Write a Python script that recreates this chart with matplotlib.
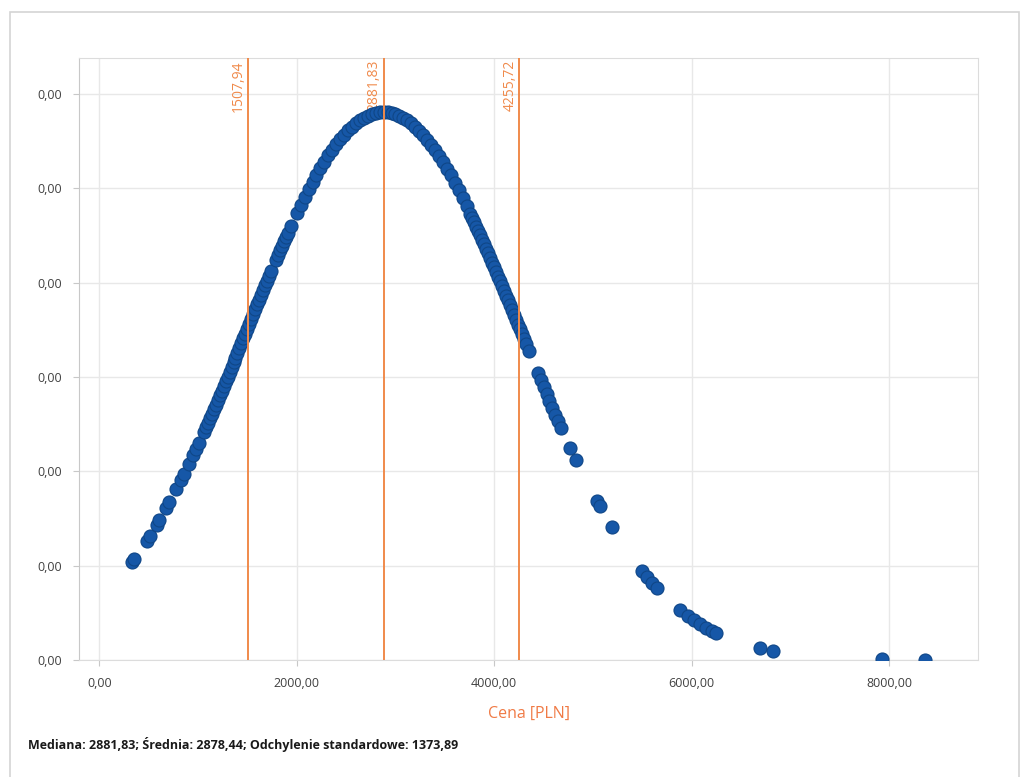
import matplotlib
matplotlib.use("Agg")
import matplotlib.pyplot as plt
from matplotlib.ticker import FuncFormatter, FixedLocator
from matplotlib.patches import Rectangle
import matplotlib.transforms as mtransforms

plt.rcParams['font.family'] = ['Open Sans', 'DejaVu Sans']

# Prices [PLN]
price = [330, 350, 480, 510, 580, 610, 680, 710, 780, 830, 860, 910, 950, 980, 1010,
         1060, 1080, 1100, 1120, 1140, 1160, 1180, 1200, 1220, 1240, 1260, 1280, 1300,
         1320, 1340, 1360, 1380, 1400, 1420, 1440, 1460, 1480, 1500, 1520, 1540, 1560,
         1580, 1600, 1620, 1640, 1660, 1680, 1700, 1720, 1740,
         1790, 1810, 1830, 1850, 1870, 1890, 1910, 1940,
         2000, 2040, 2080, 2120, 2160, 2200, 2240, 2280, 2320, 2360, 2400, 2440, 2480,
         2520, 2560, 2600, 2640, 2680, 2720, 2760, 2800, 2840, 2880, 2920, 2960, 3000,
         3040, 3080, 3120, 3160, 3200, 3240, 3280, 3320, 3360, 3400, 3440, 3480, 3520,
         3560, 3600, 3640, 3680, 3720, 3760, 3780, 3800, 3820, 3840, 3860, 3880, 3900,
         3920, 3940, 3960, 3980, 4000, 4020, 4040, 4060, 4080, 4100, 4120, 4140, 4160,
         4180, 4200, 4220, 4240, 4260, 4280, 4300, 4320, 4350,
         4440, 4470, 4500, 4530, 4560, 4590, 4620, 4650, 4680,
         4770, 4830, 5040, 5070, 5190,
         5500, 5550, 5600, 5650,
         5880, 5960, 6020, 6080, 6150, 6210, 6250,
         6690, 6820, 7930, 8360]

# Density values in units of 1e-5
density_e5 = [5.20, 5.34, 6.33, 6.57, 7.17, 7.43, 8.07, 8.36, 9.05, 9.56, 9.87, 10.40, 10.84, 11.18, 11.52,
              12.09, 12.33, 12.56, 12.80, 13.04, 13.28, 13.53, 13.77, 14.02, 14.26, 14.51, 14.76, 15.01,
              15.26, 15.51, 15.77, 16.02, 16.28, 16.53, 16.79, 17.04, 17.30, 17.56, 17.81, 18.07, 18.32,
              18.58, 18.84, 19.09, 19.34, 19.60, 19.85, 20.10, 20.35, 20.60,
              21.22, 21.46, 21.70, 21.94, 22.18, 22.42, 22.65, 23.00,
              23.67, 24.11, 24.53, 24.94, 25.33, 25.71, 26.07, 26.41, 26.74, 27.04, 27.33, 27.60, 27.84,
              28.07, 28.27, 28.45, 28.61, 28.74, 28.85, 28.93, 28.99, 29.03, 29.04, 29.03, 28.99, 28.93,
              28.84, 28.73, 28.59, 28.44, 28.26, 28.05, 27.83, 27.58, 27.31, 27.02, 26.71, 26.39, 26.04,
              25.68, 25.30, 24.90, 24.50, 24.07, 23.64, 23.41, 23.19, 22.96, 22.73, 22.50, 22.26, 22.03,
              21.79, 21.55, 21.30, 21.06, 20.81, 20.56, 20.31, 20.06, 19.81, 19.56, 19.30, 19.05, 18.80,
              18.54, 18.28, 18.03, 17.77, 17.52, 17.26, 17.00, 16.75, 16.36,
              15.22, 14.85, 14.47, 14.10, 13.73, 13.37, 13.00, 12.65, 12.29,
              11.26, 10.59, 8.42, 8.14, 7.05,
              4.70, 4.38, 4.08, 3.80,
              2.67, 2.35, 2.13, 1.92, 1.70, 1.54, 1.43,
              0.62, 0.47, 0.03, 0.01]

ref_lines = [1507.94, 2881.83, 4255.72]
ref_labels = ["1507,94", "2881,83", "4255,72"]
x_ticks = [0, 2000, 4000, 6000, 8000]
y_ticks_e5 = [0, 5, 10, 15, 20, 25, 30]
caption = "Mediana: 2881,83; Średnia: 2878,44; Odchylenie standardowe: 1373,89"
x_label = "Cena [PLN]"

density = [v * 1e-5 for v in density_e5]

fig = plt.figure(figsize=(10.23, 7.77), dpi=100)
fig.patches.append(Rectangle((10 / 1023, -0.01), 1009 / 1023, 1 - 12 / 777 + 0.01,
                             transform=fig.transFigure, fill=False,
                             edgecolor='#d4d4d4', linewidth=1.2))

ax = fig.add_axes([79 / 1023, 1 - 660 / 777, 899 / 1023, 602 / 777])
ax.set_xlim(-205, 8900)
ax.set_ylim(0, 3.19e-4)

orange = '#f08a4b'

ax.scatter(price, density, s=88, color='#1657a7', edgecolor='#0f4687',
           linewidth=0.8, zorder=3)

trans = mtransforms.blended_transform_factory(ax.transData, ax.transAxes)
for xv, lab in zip(ref_lines, ref_labels):
    ax.axvline(xv, color=orange, linewidth=1.4, zorder=4)
    ax.annotate(lab, xy=(xv, 1), xycoords=trans, xytext=(-1.5, -1.5),
                textcoords='offset points', rotation=90, ha='right', va='top',
                color=orange, fontsize=10, zorder=2)

ax.xaxis.set_major_locator(FixedLocator(x_ticks))
ax.yaxis.set_major_locator(FixedLocator([v * 1e-5 for v in y_ticks_e5]))
fmt = FuncFormatter(lambda v, p: f"{v:.2f}".replace('.', ','))
ax.xaxis.set_major_formatter(fmt)
ax.yaxis.set_major_formatter(fmt)

ax.grid(True, color='#e8e8e8', linewidth=1.0, zorder=0)
ax.set_axisbelow(True)
for side in ['top', 'right', 'bottom']:
    ax.spines[side].set_color('#dcdcdc')
ax.spines['left'].set_color('#c8c8c8')
ax.tick_params(axis='both', colors='#c8c8c8', labelcolor='#404040',
               labelsize=9, length=4)
ax.tick_params(axis='x', pad=8)
ax.tick_params(axis='y', pad=8)

ax.set_xlabel(x_label, color='#f07a45', fontsize=11.5, labelpad=12)

fig.text(28 / 1023, 1 - 745 / 777, caption, ha='left', va='center',
         fontsize=9, fontweight='bold', color='#1a1a1a')

fig.savefig("out.png", dpi=100, facecolor='white')
